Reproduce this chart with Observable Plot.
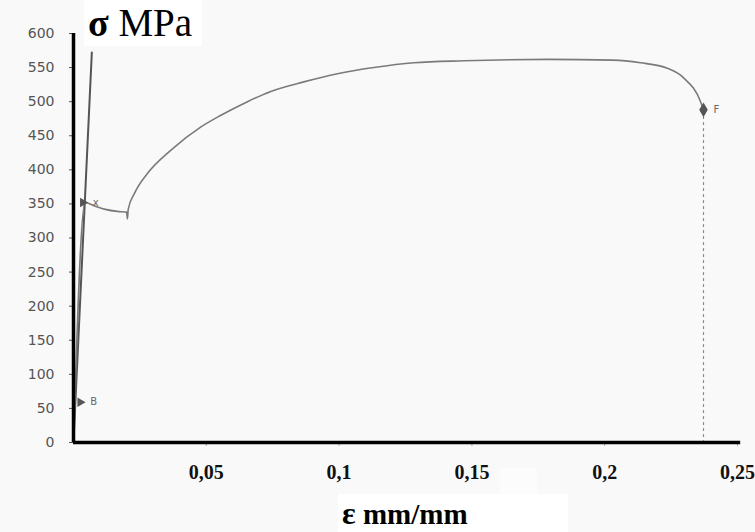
<!DOCTYPE html>
<html>
<head>
<meta charset="utf-8">
<script src="https://cdn.jsdelivr.net/npm/d3@7"></script>
<script src="https://cdn.jsdelivr.net/npm/@observablehq/plot@0.6"></script>
<style>
  html, body { margin: 0; padding: 0; background: #f9f9f9; }
  #wrap { position: relative; width: 755px; height: 532px; overflow: hidden; }
  .box { position: absolute; background: #ffffff; font-family: "Liberation Serif", "DejaVu Serif", serif; color: #000; white-space: nowrap; }
</style>
</head>
<body>
<div id="wrap"></div>
<script>
// ---- data ----
const curveStrain = [0, 0.0043, 0.008, 0.012, 0.0165, 0.0200, 0.0203, 0.0206, 0.0229, 0.0279, 0.0367, 0.048, 0.0555, 0.0655, 0.0743, 0.0867, 0.0994, 0.1131, 0.1281, 0.147, 0.1785, 0.2032, 0.2135, 0.2236, 0.2297, 0.2361, 0.2372];
const curveStress = [0, 352, 347, 342, 339, 338, 328, 342, 365, 395, 429, 463, 480, 500, 515, 529, 541, 550, 557, 560, 562, 561, 557, 549, 535, 500, 488];
const elasticStrain = [0, 0.0069];
const elasticStress = [0, 572];
const pointLabels = ["B", "x", "F"];
const pointStrain = [0.0025, 0.0035, 0.2372];
const pointStress = [59, 352, 488];
const xTicks = [0.05, 0.1, 0.15, 0.2, 0.25];
const yTicks = [0, 50, 100, 150, 200, 250, 300, 350, 400, 450, 500, 550, 600];
const yTitleSymbol = "σ";
const yTitleUnit = "MPa";
const xTitleSymbol = "ε";
const xTitleUnit = "mm/mm";

const curve = curveStrain.map((e, i) => ({e, s: curveStress[i]}));
const elastic = elasticStrain.map((e, i) => ({e, s: elasticStress[i]}));
const points = pointLabels.map((l, i) => ({l, e: pointStrain[i], s: pointStress[i]}));
const fracture = [{e: pointStrain[2], s: 0}, {e: pointStrain[2], s: pointStress[2]}];
const fmt = d => String(d).replace(".", ",");

const chart = Plot.plot({
  width: 755,
  height: 532,
  marginLeft: 73,
  marginRight: 18,
  marginTop: 33,
  marginBottom: 90,
  style: {background: "transparent"},
  x: {domain: [0, 0.25], label: null},
  y: {domain: [0, 600], label: null},
  marks: [
    Plot.axisY({ticks: yTicks, tickSize: 4, tickPadding: 15, color: "#555", fontSize: 14, fontFamily: "DejaVu Sans", tickFormat: d => String(d), label: null}),
    Plot.axisX({ticks: xTicks, tickSize: 4, tickFormat: () => "", color: "#aaa", label: null}),
    Plot.axisX({ticks: xTicks, tickSize: 0, tickPadding: 22, tickFormat: fmt, color: "#111", fontSize: 20, fontWeight: "bold", fontFamily: "Liberation Serif", label: null}),
    Plot.line(fracture, {x: "e", y: "s", stroke: "#888", strokeWidth: 1.2, strokeDasharray: "2,4"}),
    Plot.line(elastic, {x: "e", y: "s", stroke: "#555", strokeWidth: 2}),
    Plot.line(curve, {x: "e", y: "s", stroke: "#7a7a7a", strokeWidth: 1.6, curve: "monotone-x"}),
    Plot.dot(points.slice(0, 2), {x: "e", y: "s", symbol: "triangle", rotate: 90, r: 3.5, fill: "#555"}),
    Plot.dot(points.slice(2), {x: "e", y: "s", symbol: "diamond", r: 4.5, fill: "#555"}),
    Plot.text(points, {x: "e", y: "s", text: "l", dx: 10, textAnchor: "start", fill: "#666", fontSize: 10, fontFamily: "DejaVu Sans"}),
    Plot.ruleX([0], {y1: 0, y2: 600, stroke: "#000", strokeWidth: 3.5}),
    Plot.ruleY([0], {x1: 0, x2: 0.2512, stroke: "#000", strokeWidth: 3.5})
  ]
});

const wrap = document.getElementById("wrap");
wrap.appendChild(chart);

const t1 = document.createElement("div");
t1.className = "box";
t1.style.cssText = "left:84px;top:0px;height:46px;padding:0 10px 0 4px;line-height:46px;font-size:39px;";
t1.innerHTML = `<b style="font-size:38px">${yTitleSymbol}</b>&nbsp;${yTitleUnit}`;
wrap.appendChild(t1);

const b1 = document.createElement("div");
b1.className = "box";
b1.style.cssText = "left:500px;top:468px;width:37px;height:35px;background:#fcfcfc;";
wrap.appendChild(b1);

const t2 = document.createElement("div");
t2.className = "box";
t2.style.cssText = "left:338px;top:494px;height:38px;padding:0 100px 0 4px;line-height:38px;font-size:29px;font-weight:bold;";
t2.innerHTML = `<span style="font-size:32px">${xTitleSymbol}</span> ${xTitleUnit}`;
wrap.appendChild(t2);
</script>
</body>
</html>
